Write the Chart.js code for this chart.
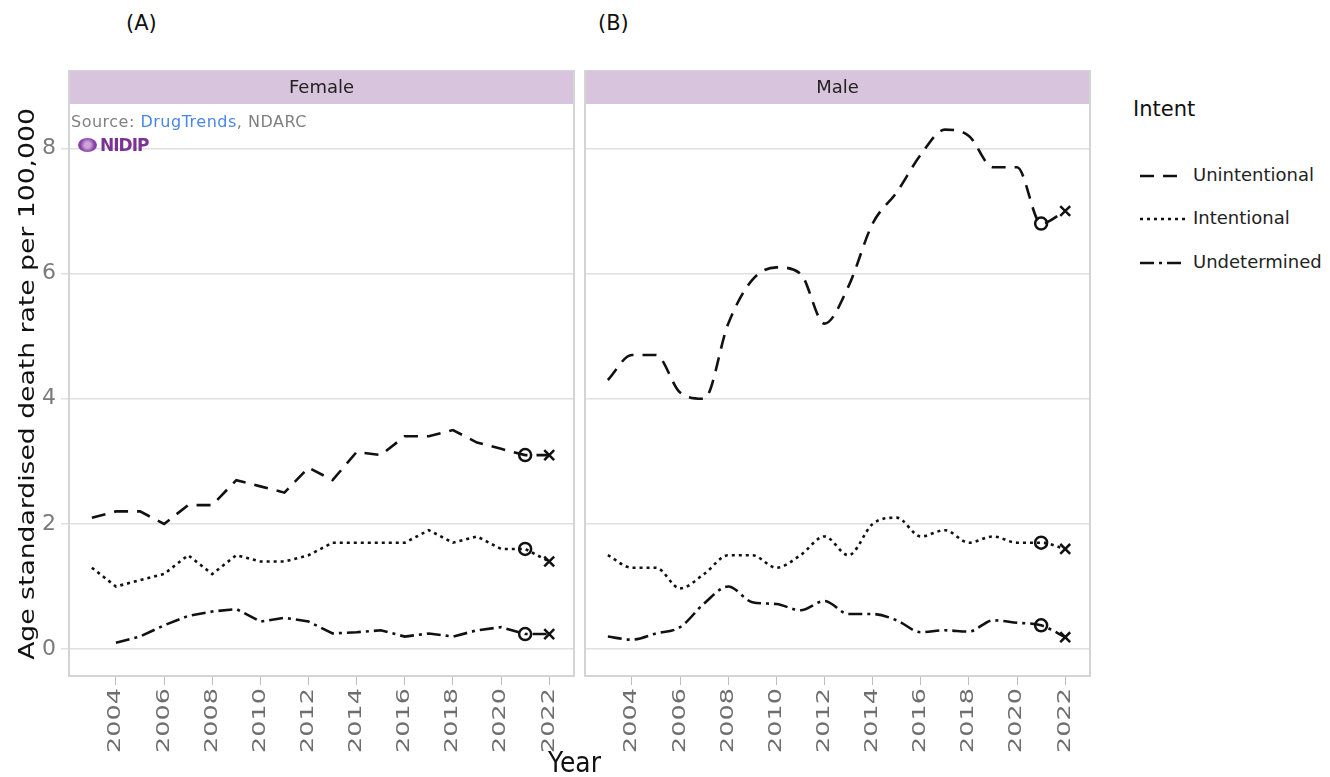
<!DOCTYPE html>
<html>
<head>
<meta charset="utf-8">
<script src="https://cdn.jsdelivr.net/npm/chart.js@4"></script>
<style>
  body { margin:0; background:#fff; font-family:'DejaVu Sans', Verdana, sans-serif; }
  #wrap { position:relative; width:1330px; height:777px; overflow:hidden; }
  canvas { position:absolute; }
  .lbl { position:absolute; color:#111; white-space:nowrap; }
  .legend-item { position:absolute; left:1140px; font-size:18px; color:#222; white-space:nowrap; line-height:22px; }
  .legend-item svg { vertical-align:middle; margin-right:8px; }
</style>
</head>
<body>
<div id="wrap">
  <canvas id="femaleChart" width="580" height="707" style="left:0;top:70px"></canvas>
  <canvas id="maleChart" width="520" height="707" style="left:580px;top:70px"></canvas>

  <div class="lbl" style="left:126px;top:11px;font-size:21px">(A)</div>
  <div class="lbl" style="left:598px;top:11px;font-size:21px">(B)</div>

  <div class="lbl" style="left:71px;top:112px;font-size:16px;letter-spacing:0.5px;color:#808080">Source: <span style="color:#4a86e8">DrugTrends</span>, NDARC</div>
  <div class="lbl" style="left:78px;top:135px;font-size:17px;font-weight:bold;color:#7b3294;letter-spacing:-1px">
    <span style="display:inline-block;width:19px;height:14px;border-radius:50%;background:radial-gradient(circle,#c9a6d6 0,#c9a6d6 25%,#8a3fa6 60%);vertical-align:-1px;margin-right:3px"></span>NIDIP</div>

  <div class="lbl" style="left:548px;top:747px;font-size:25px;transform:scaleY(1.1);transform-origin:top left">Year</div>

  <div class="lbl" style="left:1133px;top:97px;font-size:21px">Intent</div>
  <div class="legend-item" style="top:164px"><svg width="45" height="10"><line x1="0" y1="5" x2="45" y2="5" stroke="#111" stroke-width="2.6" stroke-dasharray="14,9"/></svg>Unintentional</div>
  <div class="legend-item" style="top:207px"><svg width="45" height="10"><line x1="0" y1="5" x2="45" y2="5" stroke="#111" stroke-width="2.6" stroke-dasharray="3,4"/></svg>Intentional</div>
  <div class="legend-item" style="top:251px"><svg width="45" height="10"><line x1="0" y1="5" x2="45" y2="5" stroke="#111" stroke-width="2.6" stroke-dasharray="14,5,3,5"/></svg>Undetermined</div>
</div>

<script>
const years = [2003,2004,2005,2006,2007,2008,2009,2010,2011,2012,2013,2014,2015,2016,2017,2018,2019,2020,2021,2022];
const xTicks = [2004,2006,2008,2010,2012,2014,2016,2018,2020,2022];
const yTicks = [0,2,4,6,8];

const femaleUnintentional = [2.1,2.2,2.2,2.0,2.3,2.3,2.7,2.6,2.5,2.9,2.7,3.15,3.1,3.4,3.4,3.5,3.3,3.2,3.1,3.1];
const femaleIntentional   = [1.3,1.0,1.1,1.2,1.5,1.2,1.5,1.4,1.4,1.5,1.7,1.7,1.7,1.7,1.9,1.7,1.8,1.6,1.6,1.4];
const femaleUndetermined  = [null,0.1,0.2,0.38,0.53,0.6,0.64,0.44,0.5,0.44,0.25,0.27,0.3,0.2,0.25,0.2,0.3,0.35,0.24,0.24];

const maleUnintentional = [4.3,4.7,4.7,4.1,4.0,5.2,5.9,6.1,6.0,5.2,5.8,6.8,7.3,7.9,8.3,8.2,7.7,7.7,6.8,7.0];
const maleIntentional   = [1.5,1.3,1.3,0.97,1.2,1.5,1.5,1.3,1.5,1.8,1.5,2.0,2.1,1.8,1.9,1.7,1.8,1.7,1.7,1.6];
const maleUndetermined  = [0.2,0.15,0.25,0.35,0.73,1.0,0.75,0.72,0.62,0.77,0.56,0.56,0.46,0.27,0.3,0.28,0.46,0.42,0.38,0.19];

const yTitle = 'Age standardised death rate per 100,000';
const dashes = { Unintentional:[14,9], Intentional:[3,4], Undetermined:[14,5,3,5] };

function series(label, values, smooth){
    return {
        label:label,
        data: years.map((y,i)=>({x:y, y:values[i]})),
        borderColor:'#111',
        borderWidth:2.6,
        borderDash:dashes[label],
        cubicInterpolationMode: smooth ? 'monotone' : 'default',
        tension:0,
        fill:false,
        pointStyle: c => c.dataIndex===19 ? 'crossRot' : 'circle',
        pointRadius: c => c.dataIndex===19 ? 7 : (c.dataIndex===18 ? 6 : 0),
        pointBorderWidth:2.5,
        pointBorderColor:'#111',
        pointBackgroundColor:'rgba(0,0,0,0)'
    };
}

// strip on top, grey frame, stretched year labels, stretched y title
const panelPlugin = {
    id:'panel',
    beforeDraw(chart, args, opts){
        const a = chart.chartArea, ctx = chart.ctx;
        ctx.save();
        ctx.fillStyle = '#d8c4dc';
        ctx.fillRect(a.left, a.top-34, a.right-a.left, 34);
        ctx.fillStyle = '#222';
        ctx.font = '18px "DejaVu Sans"';
        ctx.textAlign = 'center';
        ctx.textBaseline = 'middle';
        ctx.fillText(opts.title, (a.left+a.right)/2, a.top-16);
        ctx.restore();
    },
    afterDraw(chart, args, opts){
        const a = chart.chartArea, ctx = chart.ctx;
        ctx.save();
        ctx.strokeStyle = '#d4d4d4';
        ctx.lineWidth = 2;
        ctx.strokeRect(a.left, a.top-34, a.right-a.left, a.bottom-a.top+34);
        const xs = chart.scales.x;
        ctx.fillStyle = '#6e6e6e';
        ctx.font = '17px "DejaVu Sans"';
        ctx.textAlign = 'right';
        ctx.textBaseline = 'middle';
        xs.ticks.forEach(t=>{
            ctx.save();
            ctx.translate(xs.getPixelForValue(t.value), a.bottom+12);
            ctx.rotate(-Math.PI/2);
            ctx.scale(1.5,1);
            ctx.fillText(String(t.value),0,0);
            ctx.restore();
        });
        if(opts.yTitle){
            ctx.save();
            ctx.fillStyle = '#111';
            ctx.font = '22px "DejaVu Sans"';
            ctx.textAlign = 'center';
            ctx.textBaseline = 'middle';
            ctx.translate(28, (a.top+a.bottom)/2 - 6);
            ctx.rotate(-Math.PI/2);
            ctx.scale(1.21,1);
            ctx.fillText(opts.yTitle,0,0);
            ctx.restore();
        }
        ctx.restore();
    }
};

function createChart(id, title, sets, showY){
    const ctx = document.getElementById(id).getContext('2d');
    return new Chart(ctx,{
        type:'line',
        data:{ datasets:sets },
        plugins:[panelPlugin],
        options:{
            responsive:false,
            animation:false,
            devicePixelRatio:1,
            layout:{ autoPadding:false,
                     padding: showY ? {top:34,right:6,left:0,bottom:0} : {top:34,right:10,left:5,bottom:0} },
            plugins:{ legend:{display:false}, tooltip:{enabled:false},
                      panel:{ title:title, yTitle: showY ? yTitle : null } },
            scales:{
                x:{
                    type:'linear', min:2002.05, max:2023.03,
                    afterBuildTicks: s => { s.ticks = xTicks.map(v=>({value:v})); },
                    afterFit: s => { s.height = 101; s.paddingLeft = 0; s.paddingRight = 0; },
                    ticks:{ display:false },
                    grid:{ drawOnChartArea:false, drawTicks:true, tickLength:9, color:'#bdbdbd' },
                    border:{ display:false }
                },
                y:{
                    min:-0.43, max:8.71,
                    afterBuildTicks: s => { s.ticks = yTicks.map(v=>({value:v})); },
                    afterFit: s => { s.width = showY ? 69 : 0; s.paddingTop = 0; s.paddingBottom = 0; },
                    ticks:{ display:showY, padding:5, color:'#7a7a7a', font:{family:'DejaVu Sans', size:22} },
                    grid:{ color:'#e0e0e0', lineWidth:1.5, drawTicks:showY, tickLength:8 },
                    border:{ display:false }
                }
            }
        }
    });
}

createChart('femaleChart','Female',[
    series('Unintentional',femaleUnintentional,false),
    series('Intentional',femaleIntentional,false),
    series('Undetermined',femaleUndetermined,false)
], true);

createChart('maleChart','Male',[
    series('Unintentional',maleUnintentional,true),
    series('Intentional',maleIntentional,true),
    series('Undetermined',maleUndetermined,true)
], false);
</script>
</body>
</html>
